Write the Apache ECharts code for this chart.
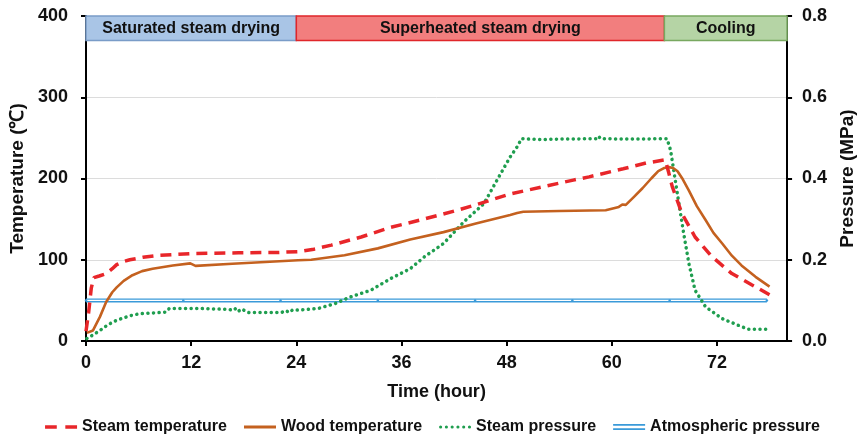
<!DOCTYPE html>
<html><head><meta charset="utf-8">
<script src="https://cdn.jsdelivr.net/npm/echarts@6/dist/echarts.min.js"></script>
<style>html,body{margin:0;padding:0;background:#fff}#c{width:865px;height:437px}</style>
</head><body><div id="c"></div>
<script>
const xTicks = [0, 12, 24, 36, 48, 60, 72];
const phaseNames = ['Saturated steam drying', 'Superheated steam drying', 'Cooling'];
const phaseStart = [0, 24, 66];
const phaseEnd = [24, 66, 80];

const steamTempT = [0,0.3,0.6,0.9,1.5,2.3,3,3.5,4.2,5,6.5,8.4,11.8,17.4,22,24.2,26,28,31.4,34.8,38.2,42.4,44.6,48.4,52.2,55.6,57.4,61.3,63.9,66.1,66.5,66.9,68,69.5,71.4,73.7,76,78];
const steamTempV = [12,35,65,78,80,83,89,94,97.5,100,103,105.5,107.5,108.5,109,110,113,118,128,140,149,161,168,181,190,198,202,212,219,223,207,190,157,128,104,83,69,57];

const woodTempT = [0.1,0.8,1.6,2.3,3,3.5,4.3,5.3,6.4,7.6,9.9,11.9,12.1,12.5,16.7,24.2,25.7,29.5,33.3,37,40.8,44.6,48.4,49.2,49.9,54,59.3,60.8,61.2,61.6,62.5,63.5,64.5,65.3,66,66.5,67,67.5,68.1,68.8,69.7,70.7,71.6,72.6,73.7,74.8,76.4,78];
const woodTempV = [10,13,30,48,60,66,74,81,86,89,93,95.5,96.5,92.5,95,99.4,100,105.5,114,125,134,145,155,157.5,159,160,161,165,168,167.5,177,188,200,209,213,214,213,209,199,185,166,149,133,120,105,93,79,67];

const steamPresT = [0.1,0.8,1.6,2.5,3.5,5,6.1,9.1,9.5,12.9,16,16.7,17,17.3,17.8,18.2,18.6,22.3,22.8,23.2,23.6,24.2,26.5,28.4,30.1,32.5,34.8,37,38.6,40.8,43.1,45.4,46.9,48.4,49.2,49.7,50.5,52,54,58.3,58.5,58.7,62,66.3,66.7,67.6,68.2,68.8,69.5,70.7,72.6,74.4,75.6,77.6];
const steamPresV = [0.006,0.015,0.026,0.04,0.051,0.062,0.067,0.071,0.08,0.08,0.078,0.076,0.08,0.072,0.079,0.073,0.07,0.07,0.075,0.07,0.077,0.076,0.08,0.092,0.108,0.125,0.154,0.178,0.207,0.24,0.293,0.338,0.396,0.453,0.478,0.498,0.497,0.496,0.497,0.498,0.504,0.498,0.497,0.498,0.47,0.346,0.265,0.19,0.125,0.084,0.055,0.039,0.029,0.029];

const atmT = [0,11.1,22.2,33.3,44.4,55.5,66.6,77.7];
const atmV = [0.1,0.1,0.1,0.1,0.1,0.1,0.1,0.1];

const zip = (a, b) => a.map((t, i) => [t, b[i]]);
const bandFill = ['#a9c5e6', '#f27e7e', '#b5d4a5'];
const bandBorder = ['#7a9cc8', '#e0262a', '#78a860'];

const dotsPath = 'path://' + [0, 5.5, 11, 16.5, 22, 27.5].map(x =>
  `M${x},0A1.5,1.5 0 1 1 ${x},3A1.5,1.5 0 1 1 ${x},0Z`).join(' ');

const font = 'Arial, "Liberation Sans", sans-serif';
const chart = echarts.init(document.getElementById('c'));
chart.setOption({
  animation: false,
  grid: {left: 86, right: 73, top: 16, bottom: 96},
  legend: {
    top: 414, left: 'center', itemWidth: 32, itemHeight: 14, itemGap: 17,
    textStyle: {fontFamily: font, fontWeight: 'bold', fontSize: 16, color: '#111'},
    data: [
      {name: 'Steam temperature', icon: 'path://M0,0H11V3.4H0Z M19,0H30V3.4H19Z', itemStyle: {color: '#e8262a'}},
      {name: 'Wood temperature', icon: 'path://M0,0H30V2.8H0Z', itemStyle: {color: '#c4611f'}},
      {name: 'Steam pressure', icon: dotsPath, itemStyle: {color: '#1f9e4f'}},
      {name: 'Atmospheric pressure', icon: 'path://M0,0H30V1.6H0Z M0,4H30V5.6H0Z', itemStyle: {color: '#3a9ad9'}}
    ]
  },
  xAxis: {
    type: 'value', min: 0, max: 80, interval: 12,
    name: 'Time (hour)', nameLocation: 'middle', nameGap: 42,
    nameTextStyle: {fontFamily: font, fontWeight: 'bold', fontSize: 18, color: '#111'},
    axisLine: {lineStyle: {color: '#000', width: 2}},
    axisTick: {show: true, length: 5, lineStyle: {color: '#000', width: 2}},
    axisLabel: {fontFamily: font, fontWeight: 'bold', fontSize: 18, color: '#111', margin: 13, showMaxLabel: false,
      formatter: v => (xTicks.indexOf(v) >= 0 ? String(v) : '')},
    splitLine: {show: false}
  },
  yAxis: [
    {
      type: 'value', min: 0, max: 400, interval: 100,
      name: 'Temperature (℃)', nameLocation: 'middle', nameGap: 50, nameRotate: 90,
      nameTextStyle: {fontFamily: font, fontWeight: 'bold', fontSize: 19, color: '#111'},
      axisLine: {show: true, lineStyle: {color: '#000', width: 2}},
      axisTick: {show: true, length: 5, lineStyle: {color: '#000', width: 2}},
      axisLabel: {fontFamily: font, fontWeight: 'bold', fontSize: 18, color: '#111', margin: 18},
      splitLine: {show: true, lineStyle: {color: '#dcdcdc', width: 1}}
    },
    {
      type: 'value', min: 0, max: 0.8, interval: 0.2, position: 'right',
      name: 'Pressure (MPa)', nameLocation: 'middle', nameGap: 46, nameRotate: 90,
      nameTextStyle: {fontFamily: font, fontWeight: 'bold', fontSize: 19, color: '#111'},
      axisLine: {show: true, lineStyle: {color: '#000', width: 2}},
      axisTick: {show: true, length: 5, lineStyle: {color: '#000', width: 2}},
      axisLabel: {fontFamily: font, fontWeight: 'bold', fontSize: 18, color: '#111', margin: 15,
        formatter: v => v.toFixed(1)},
      splitLine: {show: false}
    }
  ],
  series: [
    {
      name: 'phases', type: 'line', data: [], yAxisIndex: 0, silent: true,
      markArea: {
        silent: true,
        label: {show: true, position: 'inside', fontFamily: font, fontWeight: 'bold', fontSize: 16, color: '#111'},
        data: phaseNames.map((n, i) => [
          {name: n, xAxis: phaseStart[i], yAxis: 370, itemStyle: {color: bandFill[i], borderColor: bandBorder[i], borderWidth: 1.5}},
          {xAxis: phaseEnd[i], yAxis: 400}
        ])
      }
    },
    {
      name: 'Atmospheric pressure', type: 'line', yAxisIndex: 1, data: zip(atmT, atmV),
      symbol: 'none', lineStyle: {color: '#3a9ad9', width: 4}, itemStyle: {color: '#3a9ad9'}, z: 2
    },
    {
      name: 'atm-inner', type: 'line', yAxisIndex: 1, data: zip(atmT, atmV),
      symbol: 'circle', symbolSize: 2.5, showSymbol: true, itemStyle: {color: '#3a9ad9'},
      lineStyle: {color: '#ffffff', width: 1.3}, z: 3
    },
    {
      name: 'Steam pressure', type: 'line', yAxisIndex: 1, data: zip(steamPresT, steamPresV),
      symbol: 'none', itemStyle: {color: '#1f9e4f'},
      lineStyle: {color: '#1f9e4f', width: 3.5, type: [0.1, 5.5], cap: 'round', join: 'round'}, z: 4
    },
    {
      name: 'Wood temperature', type: 'line', yAxisIndex: 0, data: zip(woodTempT, woodTempV),
      symbol: 'none', itemStyle: {color: '#c4611f'},
      lineStyle: {color: '#c4611f', width: 2.6, join: 'round'}, z: 5
    },
    {
      name: 'Steam temperature', type: 'line', yAxisIndex: 0, data: zip(steamTempT, steamTempV),
      symbol: 'none', itemStyle: {color: '#e8262a'},
      lineStyle: {color: '#e8262a', width: 3.5, type: [11, 7]}, z: 6
    }
  ]
});
</script>
</body></html>
